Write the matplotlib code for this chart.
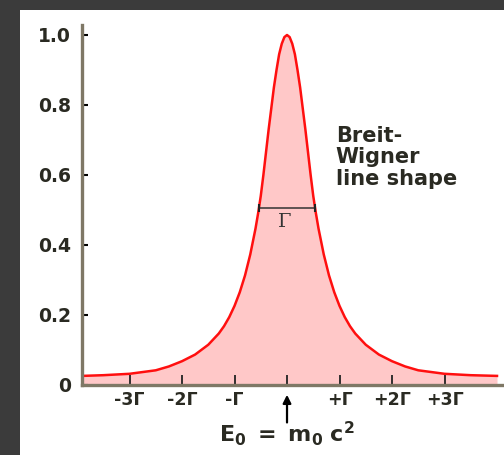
import matplotlib
matplotlib.use("Agg")
import matplotlib.pyplot as plt
from matplotlib.patches import Rectangle

# Data (energy offset in units of Gamma, relative intensity)
energy_gamma = [-3.9, -3.5, -3.0, -2.5, -2.25, -2.0, -1.75, -1.5, -1.3, -1.2, -1.1,
                -1.0, -0.9, -0.8, -0.7, -0.6, -0.55, -0.5, -0.45, -0.4, -0.35, -0.3,
                -0.25, -0.2, -0.15, -0.1, -0.05, 0.0,
                0.05, 0.1, 0.15, 0.2, 0.25, 0.3, 0.35, 0.4, 0.45, 0.5, 0.55, 0.6,
                0.7, 0.8, 0.9, 1.0, 1.1, 1.2, 1.3, 1.5, 1.75, 2.0, 2.25, 2.5, 3.0,
                3.5, 4.0]
intensity = [0.026, 0.028, 0.032, 0.042, 0.053, 0.068, 0.087, 0.115, 0.147, 0.168, 0.194,
             0.226, 0.265, 0.313, 0.373, 0.447, 0.491, 0.54, 0.60, 0.665, 0.73, 0.79,
             0.85, 0.90, 0.945, 0.975, 0.994, 1.0,
             0.994, 0.975, 0.945, 0.90, 0.85, 0.79, 0.73, 0.665, 0.60, 0.54, 0.491,
             0.447, 0.373, 0.313, 0.265, 0.226, 0.194, 0.168, 0.147, 0.115, 0.087,
             0.068, 0.053, 0.042, 0.032, 0.028, 0.026]

x_ticks = [-3, -2, -1, 0, 1, 2, 3]
x_tick_labels = ["-3Γ", "-2Γ", "-Γ", "", "+Γ", "+2Γ", "+3Γ"]
y_ticks = [0, 0.2, 0.4, 0.6, 0.8, 1.0]
y_tick_labels = ["0", "0.2", "0.4", "0.6", "0.8", "1.0"]

plt.rcParams["mathtext.fontset"] = "dejavusans"

W, H = 504, 455
fig = plt.figure(figsize=(W / 100, H / 100), dpi=100, facecolor="#3b3b3b")
fig.patches.append(Rectangle((20 / W, 0), 1 - 20 / W, (H - 10) / H,
                             transform=fig.transFigure, facecolor="white",
                             edgecolor="none", zorder=-10))

ax = fig.add_axes([82 / W, (H - 385) / H, 420 / W, 360 / H])
ax.set_facecolor("none")

ax.fill_between(energy_gamma, 0, intensity, color="#ffc8c8", lw=0, zorder=1)
ax.plot(energy_gamma, intensity, color="#ff0f0f", lw=1.8, zorder=3,
        solid_joinstyle="round")

ax.set_xlim(-3.905, 4.095)
ax.set_ylim(0, 360 / 350)

spine_col = "#7f7866"
for s in ["top", "right"]:
    ax.spines[s].set_visible(False)
for s in ["left", "bottom"]:
    ax.spines[s].set_color(spine_col)
    ax.spines[s].set_linewidth(2.4)
    ax.spines[s].set_zorder(4)

txt_col = "#2a2a22"
ax.set_yticks(y_ticks)
ax.set_yticklabels(y_tick_labels, fontsize=13.5, fontweight="bold", color=txt_col)
ax.tick_params(axis="y", direction="in", length=4, width=1.5, color="black", pad=8)

ax.set_xticks(x_ticks)
ax.set_xticklabels(x_tick_labels, fontsize=12.5, fontweight="bold", color=txt_col)
ax.tick_params(axis="x", direction="in", length=7, width=1.3, color="#222222", pad=4)
for t in ax.xaxis.get_major_ticks():
    t.tick1line.set_zorder(5)

# FWHM bar
ax.plot([-0.53, 0.53], [0.506, 0.506], color="#333333", lw=1.1, zorder=4)
ax.plot([-0.53, 0.53], [0.506, 0.506], ls="none", marker="|", ms=6, mew=1.5,
        color="#222222", zorder=4)
ax.text(-0.05, 0.49, "Γ", family="DejaVu Serif", fontsize=14, ha="center", va="top",
        color="#333333", zorder=5)

ax.text(0.93, 0.74, "Breit-\nWigner\nline shape", fontsize=15, fontweight="bold",
        color=txt_col, ha="left", va="top", linespacing=1.08, zorder=5)

# Arrow and E0 label below axis
ax.annotate("", xy=(0, -0.02), xytext=(0, -0.115), xycoords="data",
            arrowprops=dict(arrowstyle="-|>", color="black", lw=1.6,
                            mutation_scale=12), annotation_clip=False)
ax.text(0, -0.14, r"$\mathbf{E_0\ =\ m_0\ c^2}$", fontsize=16, ha="center",
        va="center", color=txt_col, clip_on=False)

fig.savefig("out.png", dpi=100, facecolor=fig.get_facecolor())
